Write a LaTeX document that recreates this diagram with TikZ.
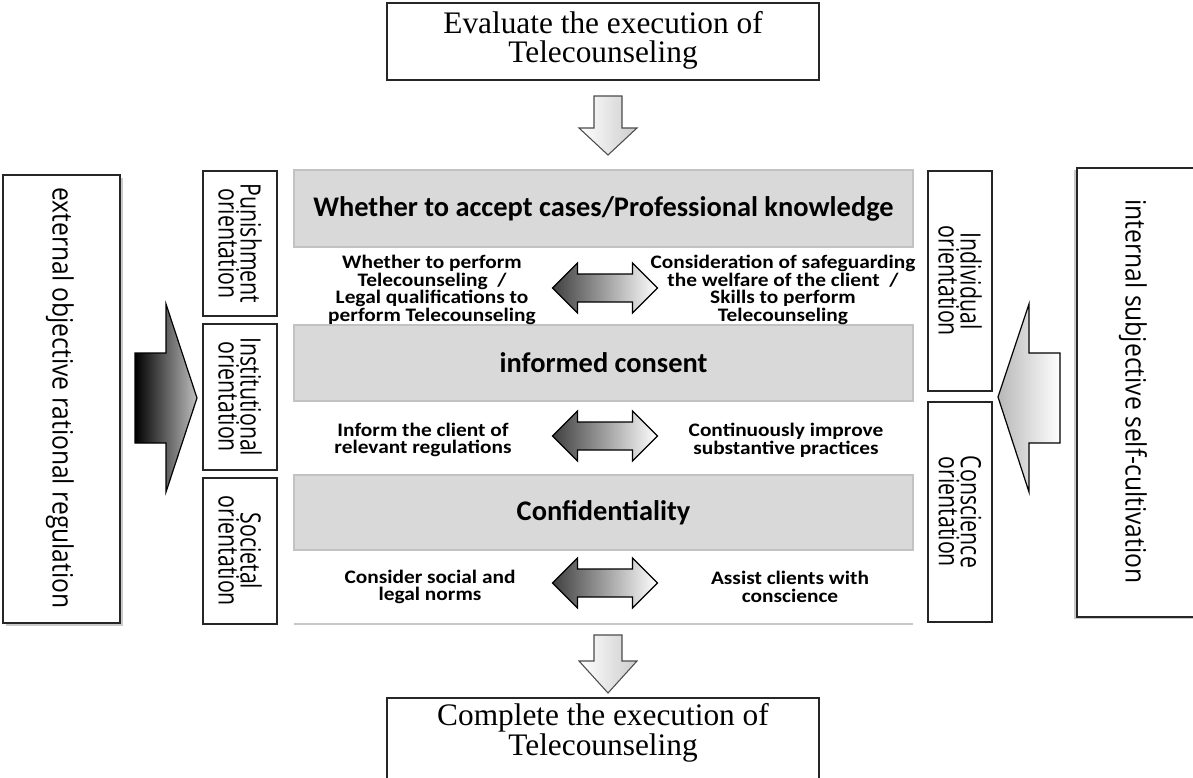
\documentclass[tikz,border=0pt]{standalone}
\usepackage{fontspec}
\setmainfont{Liberation Serif}
\newfontfamily\calfont{Carlito}
\newfontfamily\calwide[FakeStretch=1.12]{Carlito}
\newfontfamily\orifont[FakeStretch=0.76]{Open Sans}
\newfontfamily\sidefont[FakeStretch=0.88]{Open Sans}
\usetikzlibrary{shadows}

\begin{document}
\begin{tikzpicture}[x=0.75pt,y=-0.75pt,
  framebox/.style={draw=black!85, line width=0.9pt, fill=white, inner sep=0pt},
  seriftext/.style={align=center, font=\fontsize{23.5}{22}\selectfont, inner sep=0pt},
  band/.style={fill=black!15, draw=black!24, line width=1pt, inner sep=0pt,
    minimum width=464.25pt, font=\calfont\bfseries\fontsize{21.3}{24}\selectfont},
  rowtext/.style={align=center, inner sep=0pt,
    font=\calwide\bfseries\fontsize{14.3}{13.2}\selectfont},
  oribox/.style={framebox, line width=0.8pt},
  oritext/.style={rotate=-90, align=center, inner sep=0pt,
    font=\orifont\fontsize{21}{16.5}\selectfont},
  sidebox/.style={framebox},
  sidetext/.style={rotate=-90, inner sep=0pt, font=\sidefont\fontsize{21}{24}\selectfont},
  downarrow/.style={draw=black!70, line width=0.8pt, left color=white, right color=black!20},
  dblarrow/.style={draw=black, line width=0.9pt, left color=black!75, right color=white},
  pics/dbl/.style={code={
    \path[dblarrow] (-52.5,0) -- (-27.5,-25) -- (-27.5,-14) -- (27.5,-14) -- (27.5,-25)
      -- (52.5,0) -- (27.5,25) -- (27.5,14) -- (-27.5,14) -- (-27.5,25) -- cycle;}},
]
\useasboundingbox (0,0) rectangle (1193,778);

% top and bottom stages
\node[framebox, minimum width=324pt, minimum height=57.75pt] (evaluate) at (603,41.5) {};
\node[seriftext] (evaluatetext) at (603,40.5) {Evaluate the execution of\\Telecounseling};
\node[framebox, minimum width=324pt, minimum height=65.25pt] (complete) at (603,741.5) {};
\node[seriftext] (completetext) at (603,733) {Complete the execution of\\Telecounseling};

% down arrows
\path[downarrow] (594,96) -- (622,96) -- (622,128) -- (637,128) -- (608,155)
  -- (579,128) -- (594,128) -- cycle;
\path[downarrow] (594,635) -- (622,635) -- (622,661) -- (637,661) -- (608,693)
  -- (579,661) -- (594,661) -- cycle;

% principle bands
\node[band, minimum height=57.75pt] (knowledge) at (603.5,208.5)
  {Whether to accept cases/Professional knowledge};
\node[band, minimum height=57pt] (consent) at (603.5,363) {informed consent};
\node[band, minimum height=56.25pt] (confid) at (603.5,512.5) {Confidentiality};
\coordinate (baseL) at (294,624);
\coordinate (baseR) at (913,624);
\draw[black!22, line width=1.4pt] (baseL) -- (baseR);

% paired considerations
\node[rowtext] (r1l) at (432,290) {Whether to perform\\Telecounseling~~/\\Legal qualifications to\\perform Telecounseling};
\node[rowtext] (r1r) at (783,290) {Consideration of safeguarding\\the welfare of the client~~/\\Skills to perform\\Telecounseling};
\node[rowtext] (r2l) at (423,440) {Inform the client of\\relevant regulations};
\node[rowtext] (r2r) at (786,440) {Continuously improve\\substantive practices};
\node[rowtext] (r3l) at (430,587) {Consider social and\\legal norms};
\node[rowtext] (r3r) at (790,587) {Assist clients with\\conscience};
\pic at (605,288) {dbl};
\pic at (605,436) {dbl};
\pic at (605,583) {dbl};

% orientation boxes
\node[oribox, minimum width=55.5pt, minimum height=108.75pt] (punish) at (240,243.5) {};
\node[oribox, minimum width=55.5pt, minimum height=109.5pt] (instit) at (240,397) {};
\node[oribox, minimum width=55.5pt, minimum height=109.5pt] (societ) at (240,551) {};
\node[oribox, minimum width=48pt, minimum height=165pt] (indiv) at (960,281) {};
\node[oribox, minimum width=48pt, minimum height=165pt] (consc) at (960,512) {};
\foreach \b/\t in {punish/Punishment, instit/Institutional, societ/Societal,
                   indiv/Individual, consc/Conscience}
  \node[oritext] (\b-label) at (\b) {\t\\orientation};

% outer regulation boxes
\node[sidebox, minimum width=87.75pt, minimum height=336pt,
      drop shadow={shadow xshift=2.5pt, shadow yshift=-2.5pt, opacity=0.35, fill=black!60}]
      (external) at (61.5,399) {};
\node[sidetext] (externaltext) at (60,398) {external objective rational regulation};
\node[sidebox, minimum width=89.25pt, minimum height=336.75pt,
      drop shadow={shadow xshift=-2.5pt, shadow yshift=-1.5pt, opacity=0.35, fill=black!60}]
      (internal) at (1136.5,392.5) {};
\node[sidetext] (internaltext) at (1133,391.5) {internal subjective self-cultivation};

% block arrows feeding the orientations
\path[draw=black, line width=0.9pt, left color=black, right color=black!25]
  (135,353) -- (166,353) -- (166,304) -- (197,398) -- (166,492) -- (166,443)
  -- (135,443) -- cycle;
\path[draw=black, line width=0.9pt, left color=black!28, right color=white]
  (1060,353) -- (1029,353) -- (1029,304) -- (998,397) -- (1029,492) -- (1029,443)
  -- (1060,443) -- cycle;
\end{tikzpicture}
\end{document}
